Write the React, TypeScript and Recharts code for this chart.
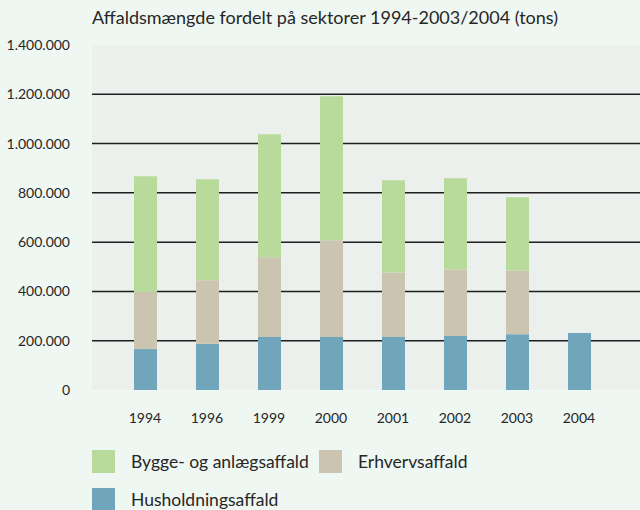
import React from 'react';
import { BarChart, Bar, XAxis, YAxis, CartesianGrid } from 'recharts';

const years = ['1994', '1996', '1999', '2000', '2001', '2002', '2003', '2004'];
const husholdning = [166000, 188000, 215000, 215000, 215000, 219000, 226000, 231000];
const erhverv = [232000, 257000, 324000, 393000, 262000, 270000, 259000, 0];
const byggeAnlaeg = [469000, 410000, 499000, 584000, 374000, 370000, 297000, 0];
const yTicks = [0, 200000, 400000, 600000, 800000, 1000000, 1200000, 1400000];
const gridValues = [200000, 400000, 600000, 800000, 1000000, 1200000];

const series = [
  { key: 'Husholdningsaffald', color: '#70a5bc' },
  { key: 'Erhvervsaffald', color: '#cbc4b1' },
  { key: 'Bygge- og anlægsaffald', color: '#b8da9a' },
];

const data = years.map((year, i) => ({
  year,
  Husholdningsaffald: husholdning[i],
  Erhvervsaffald: erhverv[i],
  'Bygge- og anlægsaffald': byggeAnlaeg[i],
}));

// danish thousands separator
const fmt = (v: number) => String(v).replace(/\B(?=(\d{3})+(?!\d))/g, '.');

const font = 'Lato, "DejaVu Sans", sans-serif';
const textColor = '#262626';

const legendRows = [
  [series[2], series[1]],
  [series[0]],
];

const App: React.FC = () => {
  return (
    <div style={{ position: 'relative', width: 640, height: 510, background: '#eff7f2', fontFamily: font, color: textColor, overflow: 'hidden' }}>
      <style>{'body{margin:0}'}</style>
      <div style={{ position: 'absolute', left: 92, top: 6, fontSize: 18 }}>
        Affaldsmængde fordelt på sektorer 1994-2003/2004 (tons)
      </div>
      <BarChart
        width={640}
        height={430}
        data={data}
        margin={{ top: 45, right: 0, bottom: 0, left: 0 }}
      >
        <CartesianGrid
          fill="#ebf0ec"
          stroke="#1e1e1e"
          strokeWidth={1.5}
          vertical={false}
          horizontalValues={gridValues}
        />
        <XAxis
          dataKey="year"
          axisLine={false}
          tickLine={false}
          tickSize={0}
          tickMargin={23}
          height={40}
          padding={{ left: 22, right: 30 }}
          tick={{ fill: textColor, fontSize: 14, fontFamily: font }}
        />
        <YAxis
          width={92}
          domain={[0, 1400000]}
          ticks={yTicks}
          tickFormatter={fmt}
          axisLine={false}
          tickLine={false}
          tickSize={0}
          tickMargin={22}
          tick={{ fill: textColor, fontSize: 14, fontFamily: font }}
        />
        {series.map((s) => (
          <Bar key={s.key} dataKey={s.key} stackId="a" fill={s.color} barSize={23} isAnimationActive={false} />
        ))}
      </BarChart>
      <div style={{ position: 'absolute', left: 92, top: 450 }}>
        {legendRows.map((row, r) => (
          <div key={r} style={{ display: 'flex', alignItems: 'center', height: 23, marginBottom: 15 }}>
            {row.map((s, i) => (
              <div key={s.key} style={{ display: 'flex', alignItems: 'center', width: i === 0 ? 227 : undefined }}>
                <div style={{ width: 23, height: 23, background: s.color, marginRight: 16 }} />
                <span style={{ fontSize: 17.5 }}>{s.key}</span>
              </div>
            ))}
          </div>
        ))}
      </div>
    </div>
  );
};

export default App;
